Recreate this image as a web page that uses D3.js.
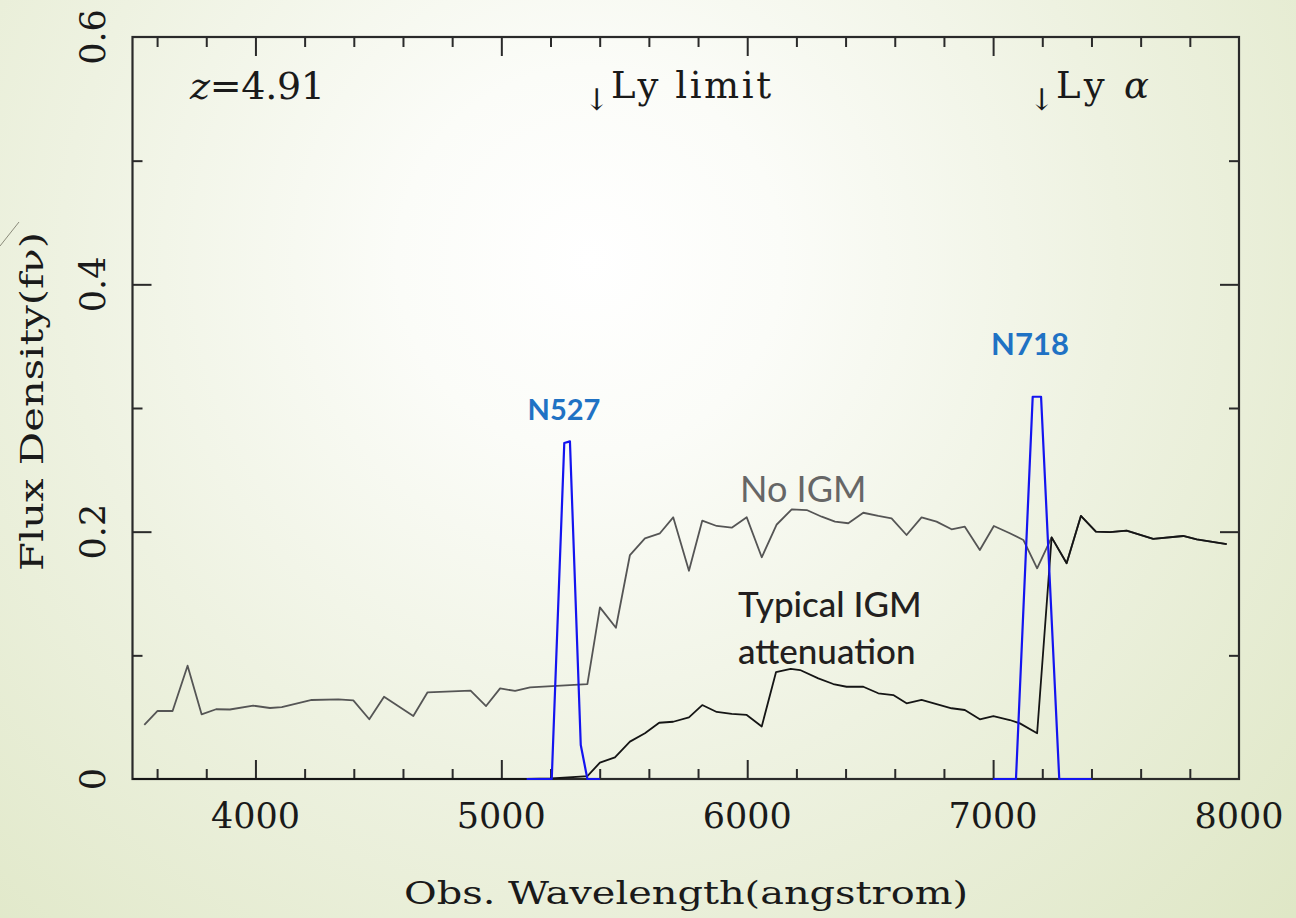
<!DOCTYPE html>
<html>
<head>
<meta charset="utf-8">
<script src="https://cdn.jsdelivr.net/npm/d3@7"></script>
<style>
  html, body { margin: 0; padding: 0; }
  body { width: 1296px; height: 918px; overflow: hidden; }
  svg { display: block; }
</style>
</head>
<body>
<svg id="chart" width="1296" height="918"></svg>
<script>
// ---------- data ----------
const noIgmWave = [3548,3602,3663,3724,3781,3840,3896,3991,4059,4107,4229,4337,4398,4463,4523,4642,4700,4875,4938,4995,5056,5117,5350,5401,5466,5523,5584,5645,5699,5763,5817,5876,5937,5998,6059,6120,6181,6242,6303,6357,6411,6472,6533,6587,6648,6709,6770,6831,6885,6946,7003,7068,7123,7179,7238,7299,7357,7418,7475,7543,7651,7773,7828,7950];
const noIgmFlux = [0.0437,0.0550,0.0550,0.0916,0.0523,0.0564,0.0562,0.0593,0.0574,0.0582,0.0639,0.0644,0.0636,0.0483,0.0666,0.0509,0.0701,0.0714,0.0590,0.0733,0.0712,0.0741,0.0768,0.1388,0.1223,0.1811,0.1946,0.1987,0.2116,0.1684,0.2089,0.2046,0.2032,0.2116,0.1793,0.2058,0.2181,0.2175,0.2121,0.2081,0.2068,0.2153,0.2127,0.2108,0.1973,0.2116,0.2081,0.2019,0.2040,0.1852,0.2046,0.1987,0.1933,0.1704,0.1954,0.1744,0.2127,0.2000,0.1997,0.2008,0.1941,0.1965,0.1938,0.1900];

const igmWave = [3500,5104,5205,5320,5350,5401,5462,5523,5584,5642,5699,5763,5817,5876,5937,5998,6059,6117,6177,6215,6289,6350,6404,6472,6533,6594,6648,6709,6770,6831,6885,6946,7001,7068,7109,7179,7238,7299,7357,7418,7475,7543,7651,7773,7828,7950];
const igmFlux = [0,0,0.0004,0.0019,0.0024,0.0132,0.0175,0.0302,0.0370,0.0455,0.0463,0.0499,0.0598,0.0542,0.0526,0.0518,0.0425,0.0864,0.0891,0.0881,0.0814,0.0768,0.0746,0.0746,0.0693,0.0679,0.0612,0.0639,0.0606,0.0572,0.0558,0.0483,0.0509,0.0477,0.0450,0.0370,0.1954,0.1744,0.2127,0.2000,0.1997,0.2008,0.1941,0.1965,0.1938,0.1900];

const n527Wave = [5103,5205,5256,5279,5323,5350,5401];
const n527Resp = [0,0,0.2717,0.2730,0.0275,0,0];
const n718Wave = [7000,7093,7161,7195,7269,7401];
const n718Resp = [0,0,0.3091,0.3091,0,0];

const xTickLabels = [4000,5000,6000,7000,8000];
const yTickLabels = [0,0.2,0.4,0.6];

// ---------- layout ----------
const svg = d3.select("#chart");
const W = 1296, H = 918;
const mLeft = 132.5, mRight = 1239, mTop = 37, mBottom = 779;

const defs = svg.append("defs");
const grad = defs.append("radialGradient").attr("id","bg")
  .attr("gradientUnits","userSpaceOnUse")
  .attr("cx",590).attr("cy",260).attr("r",960);
grad.append("stop").attr("offset","0").attr("stop-color","#ffffff");
grad.append("stop").attr("offset","0.2").attr("stop-color","#fbfcf8");
grad.append("stop").attr("offset","0.55").attr("stop-color","#eef2e1");
grad.append("stop").attr("offset","1").attr("stop-color","#dfe7c6");
svg.append("rect").attr("width",W).attr("height",H).attr("fill","url(#bg)");

// decorative slide stroke at left
svg.append("line").attr("x1",0).attr("y1",246).attr("x2",19).attr("y2",222)
  .attr("stroke","#8a8a7a").attr("stroke-width",1);

const x = d3.scaleLinear().domain([3500,8000]).range([mLeft,mRight]);
const y = d3.scaleLinear().domain([0,0.6]).range([mBottom,mTop]);

const serif = "'DejaVu Serif', 'Liberation Serif', serif";
const sans = "Lato, 'Open Sans', 'Noto Sans', sans-serif";

// ---------- axes (ticks inward, mirrored) ----------
const xMinor = d3.range(3600, 8000, 200).filter(v => v % 1000 !== 0);
const xMajor = [4000,5000,6000,7000];
const yMinor = [0.1,0.3,0.5];
const yMajor = [0.2,0.4];
const tickColor = "#2a2a2a";

function axisTicks(axis, vals, len) {
  axis.tickValues(vals).tickSize(len).tickFormat("");
  return axis;
}
svg.append("g").attr("transform",`translate(0,${mBottom})`).call(axisTicks(d3.axisTop(x), xMinor, 10));
svg.append("g").attr("transform",`translate(0,${mBottom})`).call(axisTicks(d3.axisTop(x), xMajor, 19));
svg.append("g").attr("transform",`translate(0,${mTop})`).call(axisTicks(d3.axisBottom(x), xMinor, 10));
svg.append("g").attr("transform",`translate(0,${mTop})`).call(axisTicks(d3.axisBottom(x), xMajor, 19));
svg.append("g").attr("transform",`translate(${mLeft},0)`).call(axisTicks(d3.axisRight(y), yMinor, 10));
svg.append("g").attr("transform",`translate(${mLeft},0)`).call(axisTicks(d3.axisRight(y), yMajor, 19));
svg.append("g").attr("transform",`translate(${mRight},0)`).call(axisTicks(d3.axisLeft(y), yMinor, 10));
svg.append("g").attr("transform",`translate(${mRight},0)`).call(axisTicks(d3.axisLeft(y), yMajor, 19));
svg.selectAll(".domain").remove();
svg.selectAll(".tick line").attr("stroke",tickColor).attr("stroke-width",2);

// frame
svg.append("rect").attr("x",mLeft).attr("y",mTop).attr("width",mRight-mLeft).attr("height",mBottom-mTop)
  .attr("fill","none").attr("stroke",tickColor).attr("stroke-width",2.2);

// tick labels
svg.append("g").selectAll("text").data(xTickLabels).join("text")
  .attr("x", d => x(d)).attr("y", 828)
  .attr("text-anchor","middle")
  .attr("font-family",serif).attr("font-size",35).attr("fill","#1a1a1a")
  .text(d => d);

svg.append("g").selectAll("text").data(yTickLabels).join("text")
  .attr("transform", d => `translate(105,${y(d)}) rotate(-90)`)
  .attr("text-anchor","middle")
  .attr("font-family",serif).attr("font-size",35).attr("fill","#1a1a1a")
  .text(d => d === 0 ? "0" : d.toFixed(1));

// axis titles
svg.append("text").attr("x",404).attr("y",904)
  .attr("font-family",serif).attr("font-size",31).attr("fill","#1a1a1a")
  .attr("textLength",564).attr("lengthAdjust","spacingAndGlyphs")
  .text("Obs. Wavelength(angstrom)");

svg.append("text").attr("transform","translate(43,571) rotate(-90)")
  .attr("font-family",serif).attr("font-size",31).attr("fill","#1a1a1a")
  .attr("textLength",339).attr("lengthAdjust","spacingAndGlyphs")
  .text("Flux Density(fν)");

// ---------- lines ----------
const line = d3.line().x(d => x(d[0])).y(d => y(d[1]));
const noIgm = noIgmWave.map((w,i) => [w, noIgmFlux[i]]);
const igm = igmWave.map((w,i) => [w, igmFlux[i]]);
const n527 = n527Wave.map((w,i) => [w, n527Resp[i]]);
const n718 = n718Wave.map((w,i) => [w, n718Resp[i]]);

svg.append("path").attr("d", line(noIgm)).attr("fill","none")
  .attr("stroke","#555555").attr("stroke-width",1.8).attr("stroke-linejoin","round");
svg.append("path").attr("d", line(igm)).attr("fill","none")
  .attr("stroke","#151515").attr("stroke-width",1.8).attr("stroke-linejoin","round");
[n527, n718].forEach(f => {
  svg.append("path").attr("d", line(f)).attr("fill","none")
    .attr("stroke","#1414f0").attr("stroke-width",2.2).attr("stroke-linejoin","round");
});

// ---------- annotations ----------
const zt = svg.append("text").attr("x",190).attr("y",99)
  .attr("font-family",serif).attr("font-size",38).attr("fill","#1a1a1a")
  .attr("textLength",135).attr("lengthAdjust","spacing");
zt.append("tspan").attr("font-style","italic").text("z");
zt.append("tspan").text("=4.91");

function lyLabel(xArrow, parts, len) {
  svg.append("text").attr("x",xArrow).attr("y",110)
    .attr("font-family",serif).attr("font-size",30).attr("fill","#1a1a1a").text("↓");
  const t = svg.append("text").attr("x",xArrow+27).attr("y",98)
    .attr("font-family",serif).attr("font-size",37).attr("fill","#1a1a1a")
    .attr("textLength",len).attr("lengthAdjust","spacing");
  parts.forEach(p => {
    const s = t.append("tspan").text(p.t);
    if (p.italic) s.attr("font-style","italic");
  });
}
lyLabel(584, [{t:"Ly  limit"}], 160);
lyLabel(1029, [{t:"Ly  "},{t:"α", italic:true}], 93);

svg.append("text").attr("x",564).attr("y",420).attr("text-anchor","middle")
  .attr("font-family",sans).attr("font-weight",700).attr("font-size",29).attr("fill","#1f72c4")
  .text("N527");
svg.append("text").attr("x",1030).attr("y",355).attr("text-anchor","middle")
  .attr("font-family",sans).attr("font-weight",700).attr("font-size",31).attr("fill","#1f72c4")
  .text("N718");

svg.append("text").attr("x",740).attr("y",502)
  .attr("font-family",sans).attr("font-size",36).attr("fill","#666666")
  .text("No IGM");
svg.append("text").attr("x",738).attr("y",617)
  .attr("font-family",sans).attr("font-weight",500).attr("font-size",35).attr("fill","#231f20")
  .text("Typical IGM");
svg.append("text").attr("x",738).attr("y",664)
  .attr("font-family",sans).attr("font-weight",500).attr("font-size",35).attr("fill","#231f20")
  .text("attenuation");
</script>
</body>
</html>
